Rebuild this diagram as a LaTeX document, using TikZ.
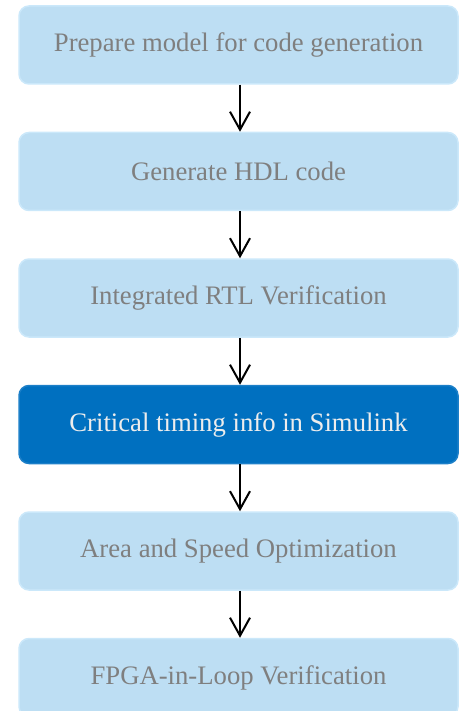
\documentclass[tikz,border=0pt]{standalone}
\usepackage{fontspec}
\setmainfont{Liberation Serif}
\usepackage{xcolor}
\usetikzlibrary{shapes,arrows,arrows.meta,positioning}

\definecolor{boxfill}{HTML}{BDDEF3}
\definecolor{boxline}{HTML}{CBE8FA}
\definecolor{boxtext}{HTML}{7F7F7F}
\definecolor{hifill}{HTML}{0070C0}
\definecolor{hiline}{HTML}{1C7FC8}
\definecolor{hitext}{HTML}{EDEDED}

\begin{document}
\begin{tikzpicture}[
    box/.style={rectangle, rounded corners=10pt, fill=boxfill, draw=boxline,
        line width=1.5pt, text=boxtext, minimum width=439pt, minimum height=78pt,
        font=\fontsize{26.7}{30}\selectfont},
    hibox/.style={box, fill=hifill, draw=hiline, text=hitext},
    flow/.style={line width=2pt, -{Straight Barb[length=18pt,width=20pt]}},
    node distance=47pt
]
\useasboundingbox (0,0) rectangle (460pt,-711pt);

% Steps
\node[box] (prep) at (238.5pt,-45pt) {Prepare model for code generation};
\node[box, below=of prep] (gen) {Generate HDL code};
\node[box, below=of gen] (rtl) {Integrated RTL Verification};
\node[hibox, below=of rtl] (timing) {Critical timing info in Simulink};
\node[box, below=of timing] (opt) {Area and Speed Optimization};
\node[box, below=of opt] (fil) {FPGA-in-Loop Verification};

% Arrows
\foreach \a/\b in {prep/gen, gen/rtl, rtl/timing, timing/opt, opt/fil} {
    \draw[flow] ([xshift=1.5pt]\a.south) -- ([xshift=1.5pt]\b.north);
}

\end{tikzpicture}
\end{document}
